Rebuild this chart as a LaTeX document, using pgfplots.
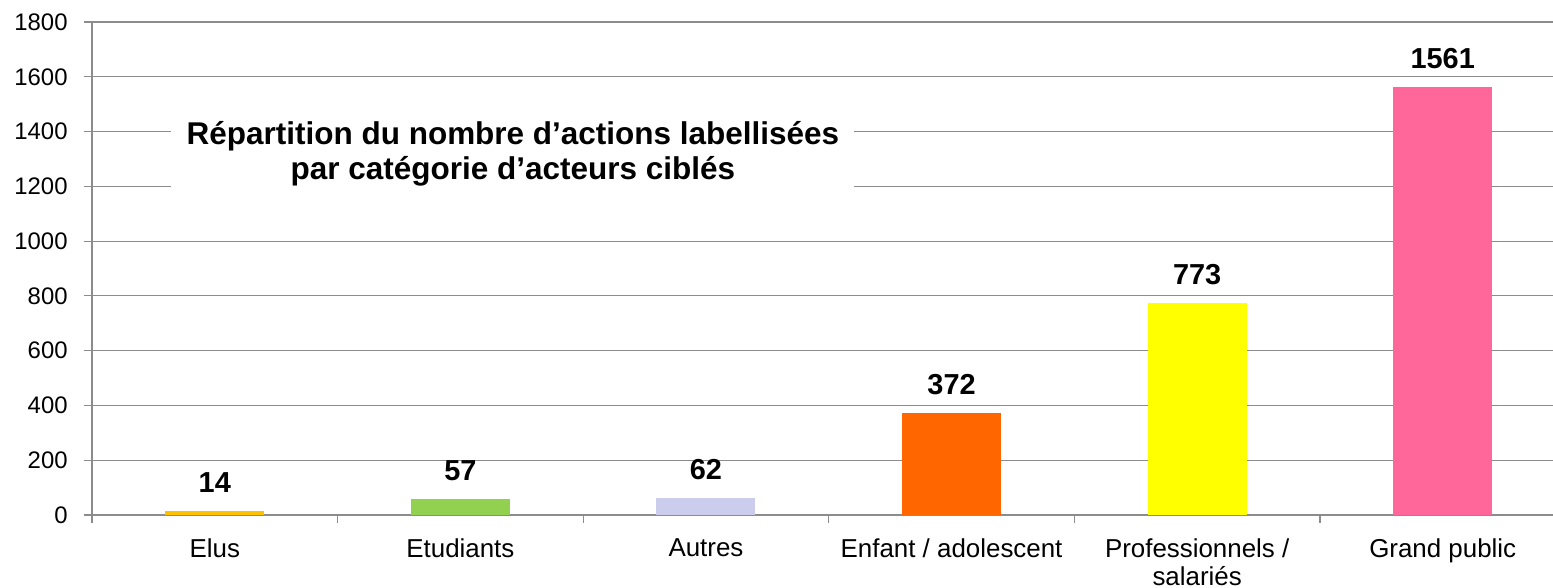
\documentclass[border=0pt]{standalone}
\usepackage{fontspec}
\setmainfont{Liberation Sans}
\usepackage{pgfplots}
\pgfplotsset{compat=1.18}
\definecolor{gridgray}{RGB}{140,140,140}
\definecolor{cElus}{RGB}{255,192,0}
\definecolor{cEtud}{RGB}{146,208,80}
\definecolor{cAutres}{RGB}{204,204,236}
\definecolor{cEnfant}{RGB}{255,102,0}
\definecolor{cPro}{RGB}{255,255,0}
\definecolor{cGrand}{RGB}{255,102,153}
\begin{document}
\begin{tikzpicture}
\begin{axis}[
  at={(0,0)}, anchor=south west,
  scale only axis,
  width=730.5bp, height=246.5bp,
  xmin=-0.5, xmax=5.449,
  ymin=0, ymax=1800,
  ytick={0,200,...,1800},
  axis x line*=bottom,
  axis y line*=left,
  axis line style={draw=gridgray, line width=0.6bp},
  tick align=outside,
  major tick length=4bp,
  tick style={draw=gridgray, line width=0.6bp},
  ymajorgrids,
  major grid style={draw=gridgray, line width=0.6bp},
  xtick={-0.5,0.5,...,4.5},
  xticklabels={},
  extra x ticks={0,1,2,3,4,5},
  extra x tick labels={Elus,Etudiants,Autres,Enfant / adolescent,{Professionnels /\\salariés},Grand public},
  extra x tick style={major tick length=0pt},
  xticklabel style={anchor=north, inner sep=0pt, yshift=-11.5bp, align=center, font=\fontsize{13}{14}\selectfont},
  yticklabel style={anchor=east, inner sep=0pt, xshift=-8bp, font=\fontsize{12}{14}\selectfont},
  /pgf/number format/assume math mode=true,
  /pgf/number format/1000 sep={},
  ybar, bar width=49.5bp, bar shift=0pt,
  nodes near coords,
  every node near coord/.append style={anchor=base, inner sep=0pt, yshift=9.5bp, font=\fontsize{14.5}{16}\bfseries, text=black},
]
\addplot[fill=cElus, draw=none] coordinates {(0,14)};
\addplot[fill=cEtud, draw=none] coordinates {(1,57)};
\addplot[fill=cAutres, draw=none] coordinates {(2,62)};
\addplot[fill=cEnfant, draw=none] coordinates {(3,372)};
\addplot[fill=cPro, draw=none] coordinates {(4,773)};
\addplot[fill=cGrand, draw=none] coordinates {(5,1561)};
\node[fill=white, minimum width=341.5bp, minimum height=50bp, align=center, inner sep=0pt,
      font=\fontsize{15.8}{18}\bfseries] at (axis cs:1.214,1319)
  {Répartition du nombre d’actions labellisées\\par catégorie d’acteurs ciblés};
\end{axis}
\pgfresetboundingbox
\path[use as bounding box] (-46bp,-36.5bp) rectangle (730.5bp,257.5bp);
\end{tikzpicture}
\end{document}
